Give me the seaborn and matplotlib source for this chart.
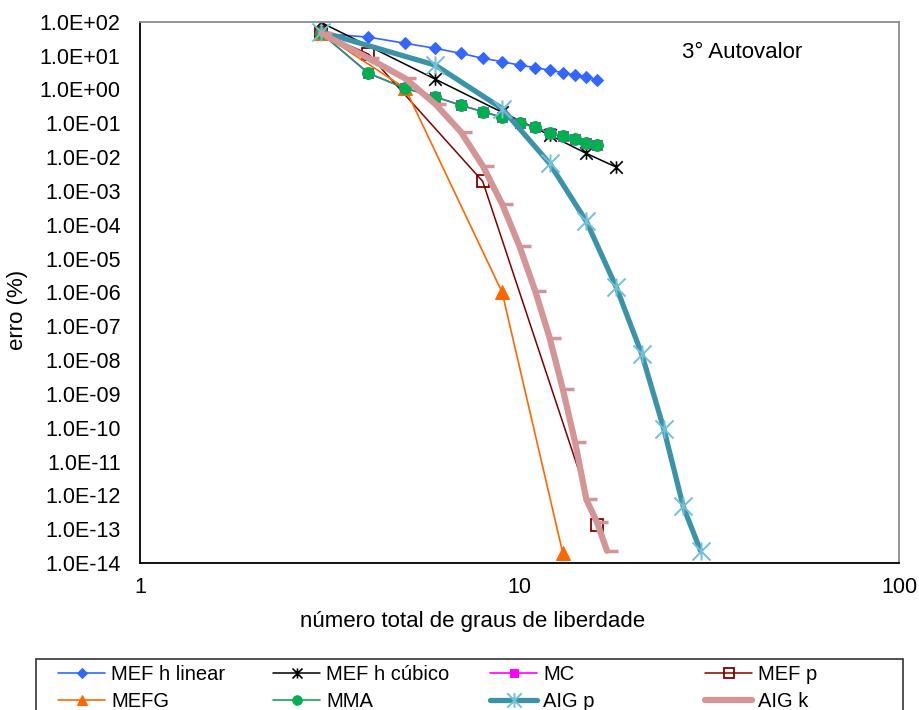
import matplotlib
matplotlib.use("Agg")
import matplotlib.pyplot as plt
import seaborn as sns
import numpy as np
from matplotlib.path import Path
from matplotlib.ticker import FuncFormatter, FixedLocator, NullLocator
from matplotlib.patches import Rectangle

sns.set_theme(style="white")
plt.rcParams["font.family"] = ["Liberation Sans", "DejaVu Sans"]
plt.rcParams["text.color"] = "black"

# --- data: error (%) versus total number of degrees of freedom ---
x_h_linear = [3, 4, 5, 6, 7, 8, 9, 10, 11, 12, 13, 14, 15, 16]
y_h_linear = [45, 35, 23, 16.3, 11.6, 8.3, 6.6, 5.2, 4.4, 3.7, 3.1, 2.6, 2.25, 1.9]

x_h_cubico = [3, 6, 9, 12, 15, 18]
y_h_cubico = [95, 2.0, 0.21, 0.045, 0.0128, 0.005]

x_mc = [3, 4, 5, 6, 7, 8, 9, 10, 11, 12, 13, 14, 15, 16]
y_mc = [46, 3.0, 1.07, 0.60, 0.34, 0.22, 0.149, 0.103, 0.075, 0.052, 0.041, 0.033, 0.026, 0.022]

x_mef_p = [3, 4, 8, 16]
y_mef_p = [46, 11, 0.0019, 1.3e-13]

x_mefg = [3, 5, 9, 13]
y_mefg = [46, 1.07, 1.0e-6, 2.0e-14]

x_mma = [3, 4, 5, 6, 7, 8, 9, 10, 11, 12, 13, 14, 15, 16]
y_mma = [46, 3.0, 1.07, 0.60, 0.34, 0.22, 0.149, 0.103, 0.075, 0.052, 0.041, 0.033, 0.026, 0.022]

x_aig_p = [3, 6, 9, 12, 15, 18, 21, 24, 27, 30]
y_aig_p = [50, 5.2, 0.27, 0.0065, 1.26e-4, 1.4e-6, 1.5e-8, 9.3e-11, 4.7e-13, 2.3e-14]

x_aig_k = [3, 4, 5, 6, 7, 8, 9, 10, 11, 12, 13, 14, 15, 16, 17]
y_aig_k = [46, 8.3, 2.1, 0.37, 0.056, 0.0055, 4.1e-4, 2.3e-5, 1.1e-6, 4.6e-8,
           1.4e-9, 3.9e-11, 7.6e-13, 1.6e-13, 2.3e-14]

labels = ["MEF h linear", "MEF h cúbico", "MC", "MEF p",
          "MEFG", "MMA", "AIG p", "AIG k"]

y_ticks = [10.0 ** e for e in range(2, -15, -1)]
x_ticks = [1, 10, 100]

# star marker: vertical bar plus an X
star = Path([(0, -1), (0, 1), (-1, -1), (1, 1), (-1, 1), (1, -1)],
            [Path.MOVETO, Path.LINETO] * 3)

W, H = 919, 710
fig = plt.figure(figsize=(W / 100, H / 100), dpi=100)
ax = fig.add_axes([140 / W, 1 - 563 / H, 759 / W, 541.3 / H])

styles = [
    (x_h_linear, y_h_linear, dict(color="#3366FF", lw=1.2, marker="D", ms=6.5,
                                  mfc="#3366FF", mec="#3366FF")),
    (x_h_cubico, y_h_cubico, dict(color="black", lw=1.1, marker=star, ms=9,
                                  mec="black", mew=1.2)),
    (x_mc, y_mc, dict(color="#FF00FF", lw=1.2, marker="s", ms=7.5,
                      mfc="#FF00FF", mec="#FF00FF")),
    (x_mef_p, y_mef_p, dict(color="#800000", lw=1.1, marker="s", ms=8.5,
                            mfc="none", mec="#800000", mew=1.3)),
    (x_mefg, y_mefg, dict(color="#FF6600", lw=1.2, marker="^", ms=9.5,
                          mfc="#FF6600", mec="#FF6600")),
    (x_mma, y_mma, dict(color="#1AA060", lw=1.2, marker="o", ms=8.5,
                        mfc="#00B050", mec="#00B050")),
    (x_aig_p, y_aig_p, dict(color="#3B93A8", lw=3.8, marker=star, ms=13,
                            mec="#72BFD6", mew=1.4)),
    (x_aig_k, y_aig_k, dict(color="#D39595", lw=4.5, marker=1, ms=8,
                            mec="#D39595", mew=2.5)),
]

handles = []
for xs, ys, kw in styles:
    sns.lineplot(x=xs, y=ys, ax=ax, legend=False, errorbar=None, sort=False, **kw)
    handles.append(ax.lines[-1])

ax.set_xscale("log")
ax.set_yscale("log")
ax.set_xlim(1, 100)
ax.set_ylim(1e-14, 1e2)

ax.yaxis.set_major_locator(FixedLocator(y_ticks))
ax.yaxis.set_minor_locator(NullLocator())
ax.xaxis.set_major_locator(FixedLocator(x_ticks))
ax.xaxis.set_minor_locator(NullLocator())
ax.yaxis.set_major_formatter(FuncFormatter(lambda v, p: f"{v:.1E}"))
ax.xaxis.set_major_formatter(FuncFormatter(lambda v, p: f"{v:g}"))

ax.tick_params(axis="both", which="major", direction="out", length=6, width=1.2,
               color="black", labelsize=15.5, labelcolor="black")
ax.tick_params(axis="y", pad=8)
ax.tick_params(axis="x", pad=4)

for side in ("left", "bottom"):
    ax.spines[side].set_color("black")
    ax.spines[side].set_linewidth(1.3)
for side in ("top", "right"):
    ax.spines[side].set_color("#8C8C8C")
    ax.spines[side].set_linewidth(1.3)

ax.set_xlabel("número total de graus de liberdade", fontsize=16, color="black")
ax.set_ylabel("erro (%)", fontsize=16, color="black")
ax.xaxis.label.set_va("center")
ax.yaxis.label.set_va("center")
ax.xaxis.set_label_coords((473 - 140) / 759, (563 - 621) / 541.3)
ax.yaxis.set_label_coords((18 - 140) / 759, (563 - 310) / 541.3)

ax.text((682 - 140) / 759, (563 - 52) / 541.3, "3° Autovalor", transform=ax.transAxes,
        fontsize=16, ha="left", va="center", color="black")

# legend: four equally spaced columns inside one frame
fig.patches.append(Rectangle((36 / W, -0.05), (903 - 36) / W, 0.05 + 1 - 659 / H,
                             transform=fig.transFigure, fill=False,
                             edgecolor="#333333", lw=1.2))
col_x = [58, 273, 490, 705]
order = [(0, 4), (1, 5), (2, 6), (3, 7)]
for cx, (i, j) in zip(col_x, order):
    fig.legend([handles[i], handles[j]], [labels[i], labels[j]],
               loc="upper left", bbox_to_anchor=(cx / W, 1 - 665 / H),
               frameon=False, fontsize=14.5, handlelength=2.35, handletextpad=0.3,
               borderpad=0, borderaxespad=0, labelspacing=0.4, markerscale=0.8,
               labelcolor="black")

fig.savefig("out.png", dpi=100)
